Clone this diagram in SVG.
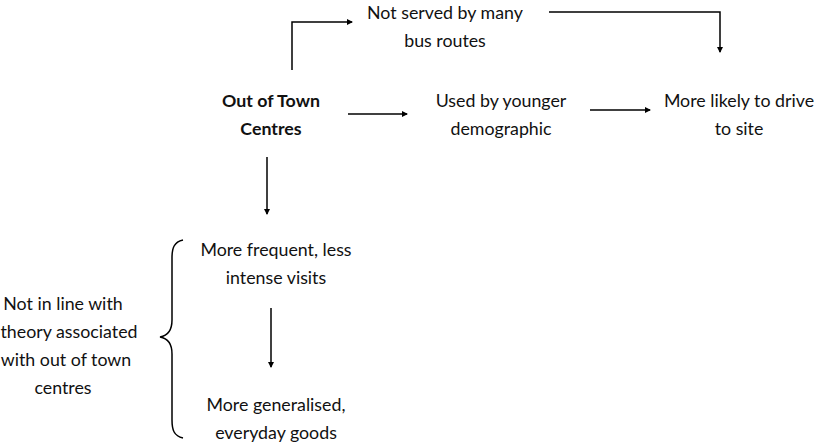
<svg xmlns="http://www.w3.org/2000/svg" width="814" height="444" viewBox="0 0 814 444">
<defs>
<marker id="ah" markerWidth="6" markerHeight="6" refX="5" refY="3" orient="auto" markerUnits="userSpaceOnUse">
<path d="M0,0 L6,3 L0,6 Z" fill="#000"/>
</marker>
<style>
text{font-family:Lato,"Open Sans","Liberation Sans",sans-serif;font-size:17.8px;fill:#111;text-anchor:middle}
.b{font-weight:bold}
.c{fill:none;stroke:#000;stroke-width:1.5}
</style>
</defs>
<rect width="814" height="444" fill="#fff"/>
<g id="connectors">
<path class="c" d="M292,70 V22 H352" marker-end="url(#ah)"/>
<path class="c" d="M549,12 H720 V52" marker-end="url(#ah)"/>
<path class="c" d="M348,114 H407" marker-end="url(#ah)"/>
<path class="c" d="M590,110 H650" marker-end="url(#ah)"/>
<path class="c" d="M267,157 V214" marker-end="url(#ah)"/>
<path class="c" d="M271,308 V367" marker-end="url(#ah)"/>
<path class="c" d="M183,240 C174,242 172,248 172,258 V320 C172,332 166,336 160,337 C166,338 172,342 172,354 V420 C172,430 174,436 183,438"/>
</g>
<g id="bus"><text x="445" y="19">Not served by many</text><text x="445" y="47">bus routes</text></g>
<g id="oot"><text class="b" x="271" y="107">Out of Town</text><text class="b" x="271" y="135">Centres</text></g>
<g id="young"><text x="501" y="107">Used by younger</text><text x="501" y="135">demographic</text></g>
<g id="drive"><text x="739" y="107">More likely to drive</text><text x="739" y="135">to site</text></g>
<g id="freq"><text x="276" y="256">More frequent, less</text><text x="276" y="284">intense visits</text></g>
<g id="gen"><text x="276" y="411">More generalised,</text><text x="276" y="439">everyday goods</text></g>
<g id="theory"><text x="63" y="310">Not in line with</text><text x="69" y="338">theory associated</text><text x="66" y="366">with out of town</text><text x="63" y="394">centres</text></g>
</svg>
